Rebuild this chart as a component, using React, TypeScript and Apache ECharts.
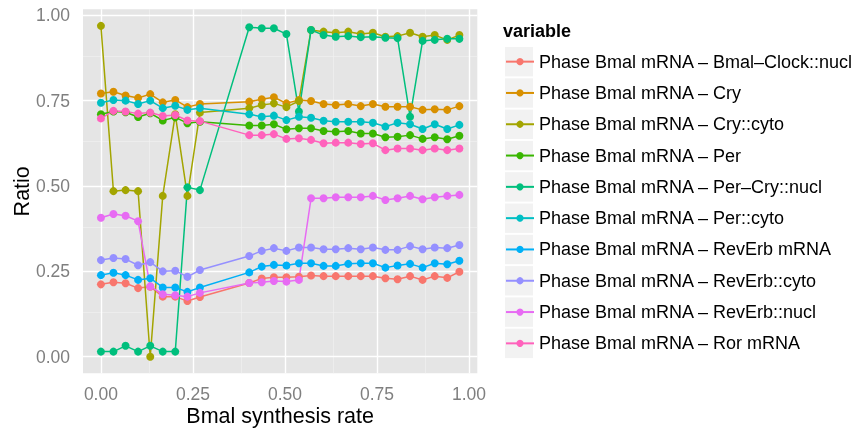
import React, { useEffect, useRef } from "react";
import * as echarts from "echarts";

const FONT = '"Liberation Sans", Arial, Helvetica, sans-serif';

const xValues = [
  0, 0.034, 0.067, 0.101, 0.134, 0.168, 0.202, 0.235, 0.269,
  0.403, 0.437, 0.47, 0.504, 0.538, 0.571, 0.605, 0.638, 0.672,
  0.706, 0.739, 0.773, 0.806, 0.84, 0.874, 0.907, 0.941, 0.974,
];

const seriesNames = [
  "Phase Bmal mRNA – Bmal–Clock::nucl",
  "Phase Bmal mRNA – Cry",
  "Phase Bmal mRNA – Cry::cyto",
  "Phase Bmal mRNA – Per",
  "Phase Bmal mRNA – Per–Cry::nucl",
  "Phase Bmal mRNA – Per::cyto",
  "Phase Bmal mRNA – RevErb mRNA",
  "Phase Bmal mRNA – RevErb::cyto",
  "Phase Bmal mRNA – RevErb::nucl",
  "Phase Bmal mRNA – Ror mRNA",
];

const seriesColors = [
  "#F8766D", "#D89000", "#A3A500", "#39B600", "#00BF7D",
  "#00BFC4", "#00B0F6", "#9590FF", "#E76BF3", "#FF62BC",
];

const bmalClockNucl = [
  0.212, 0.218, 0.215, 0.201, 0.205, 0.176, 0.176, 0.163, 0.175,
  0.216, 0.229, 0.233, 0.233, 0.234, 0.238, 0.236, 0.236, 0.236,
  0.236, 0.236, 0.23, 0.227, 0.236, 0.225, 0.236, 0.231, 0.249,
];
const cry = [
  0.771, 0.776, 0.765, 0.758, 0.769, 0.745, 0.752, 0.731, 0.74,
  0.747, 0.754, 0.76, 0.742, 0.752, 0.749, 0.74, 0.737, 0.74,
  0.734, 0.74, 0.732, 0.732, 0.732, 0.723, 0.725, 0.723, 0.734,
];
const cryCyto = [
  0.969, 0.485, 0.488, 0.485, 0.0, 0.471, 0.71, 0.471, 0.715,
  0.728, 0.737, 0.742, 0.731, 0.749, 0.957, 0.952, 0.949, 0.952,
  0.945, 0.949, 0.937, 0.939, 0.949, 0.937, 0.942, 0.928, 0.942,
];
const per = [
  0.71, 0.718, 0.716, 0.702, 0.713, 0.692, 0.701, 0.684, 0.688,
  0.677, 0.677, 0.681, 0.666, 0.669, 0.669, 0.661, 0.659, 0.661,
  0.654, 0.654, 0.643, 0.644, 0.649, 0.638, 0.643, 0.637, 0.647,
];
const perCryNucl = [
  0.015, 0.015, 0.032, 0.015, 0.032, 0.015, 0.015, 0.496, 0.488,
  0.965, 0.962, 0.962, 0.945, 0.718, 0.957, 0.942, 0.937, 0.939,
  0.936, 0.937, 0.934, 0.933, 0.703, 0.925, 0.928, 0.931, 0.931,
];
const perCyto = [
  0.744, 0.752, 0.75, 0.74, 0.75, 0.728, 0.735, 0.723, 0.728,
  0.71, 0.703, 0.706, 0.693, 0.703, 0.7, 0.691, 0.688, 0.688,
  0.688, 0.685, 0.674, 0.685, 0.681, 0.667, 0.681, 0.667, 0.679,
];
const revErbMrna = [
  0.239, 0.246, 0.239, 0.225, 0.23, 0.203, 0.203, 0.19, 0.203,
  0.247, 0.264, 0.269, 0.267, 0.274, 0.274, 0.266, 0.266, 0.272,
  0.274, 0.274, 0.261, 0.267, 0.272, 0.261, 0.274, 0.271, 0.281,
];
const revErbCyto = [
  0.283, 0.289, 0.286, 0.268, 0.277, 0.25, 0.252, 0.234, 0.254,
  0.295, 0.31, 0.318, 0.31, 0.32, 0.32, 0.315, 0.315, 0.318,
  0.315, 0.32, 0.313, 0.313, 0.324, 0.315, 0.32, 0.318, 0.327,
];
const revErbNucl = [
  0.407, 0.418, 0.413, 0.397, 0.206, 0.183, 0.18, 0.176, 0.187,
  0.216, 0.218, 0.222, 0.22, 0.225, 0.464, 0.464, 0.467, 0.467,
  0.467, 0.471, 0.459, 0.464, 0.471, 0.461, 0.467, 0.471, 0.474,
];
const rorMrna = [
  0.698, 0.72, 0.718, 0.712, 0.715, 0.705, 0.708, 0.692, 0.69,
  0.649, 0.649, 0.652, 0.638, 0.64, 0.635, 0.625, 0.627, 0.627,
  0.623, 0.625, 0.605, 0.61, 0.61, 0.605, 0.61, 0.605, 0.61,
];

const seriesValues = [
  bmalClockNucl, cry, cryCyto, per, perCryNucl,
  perCyto, revErbMrna, revErbCyto, revErbNucl, rorMrna,
];

const majorTicks = [0, 0.25, 0.5, 0.75, 1];
const minorTicks = [0.125, 0.375, 0.625, 0.875];

export default function App() {
  const ref = useRef<HTMLDivElement>(null);

  useEffect(() => {
    const chart = echarts.init(ref.current as HTMLDivElement, null, { renderer: "svg" });

    const axisCommon = (name: string, nameGap: number, margin: number) => ({
      type: "value" as const,
      axisLine: { show: false },
      axisTick: {
        show: true,
        length: 7,
        customValues: majorTicks,
        lineStyle: { color: "#7F7F7F", width: 1 },
      },
      axisLabel: {
        customValues: majorTicks,
        formatter: (v: number) => v.toFixed(2),
        color: "#7F7F7F",
        fontSize: 17.5,
        fontFamily: FONT,
        margin,
      },
      splitLine: { show: false },
      minorSplitLine: { show: false },
      name,
      nameLocation: "middle" as const,
      nameGap,
      nameMoveOverlap: false,
      nameTextStyle: { color: "#000000", fontSize: 21.5, fontFamily: FONT },
    });

    const legendTop = 46;
    const rowH = 31.3;

    const gridLineSeries = (ticks: number[], width: number, color: string, z: number) => ({
      type: "line",
      data: [],
      z,
      silent: true,
      markLine: {
        z,
        silent: true,
        symbol: ["none", "none"],
        label: { show: false },
        lineStyle: { color, width, type: "solid" },
        emphasis: { disabled: true },
        data: [
          ...ticks.map((v) => ({ xAxis: v })),
          ...ticks.map((v) => ({ yAxis: v })),
        ],
      },
    });

    const option: any = {
      animation: false,
      grid: {
        left: 83,
        top: 9.3,
        width: 394.3,
        height: 364,
        show: true,
        backgroundColor: "#E5E5E5",
        borderWidth: 0,
        outerBoundsMode: "none",
        containLabel: false,
      },
      xAxis: {
        ...axisCommon("Bmal synthesis rate", 32, 12),
        min: -0.0487,
        max: 1.0227,
      },
      yAxis: {
        ...axisCommon("Ratio", 50, 13),
        min: -0.0485,
        max: 1.0175,
        nameRotate: 90,
      },
      legend: {
        orient: "vertical",
        left: 505,
        top: legendTop,
        padding: 0,
        itemWidth: 28,
        itemHeight: 9,
        itemGap: 0,
        selectedMode: false,
        data: seriesNames,
        textStyle: { fontSize: 18, fontFamily: FONT, color: "#000000", lineHeight: rowH },
      },
      graphic: [
        {
          type: "text",
          x: 503,
          y: 30.5,
          silent: true,
          style: {
            text: "variable",
            fontSize: 18,
            fontWeight: "bold",
            fontFamily: FONT,
            fill: "#000000",
            verticalAlign: "middle",
          },
        },
        ...seriesNames.map((_, i) => ({
          type: "rect",
          silent: true,
          z: 0,
          shape: { x: 505, y: legendTop + 1 + rowH * i, width: 28, height: 29.4 },
          style: { fill: "#F2F2F2" },
        })),
      ],
      series: [
        gridLineSeries(minorTicks, 0.6, "#F2F2F2", 0.5),
        gridLineSeries(majorTicks, 1.4, "#FFFFFF", 1),
        ...seriesNames.map((name, i) => ({
          type: "line",
          name,
          z: 3,
          data: xValues.map((x, j) => [x, seriesValues[i][j]]),
          symbol: "circle",
          symbolSize: 8,
          showSymbol: true,
          color: seriesColors[i],
          lineStyle: { width: 1.5, color: seriesColors[i] },
          itemStyle: { color: seriesColors[i] },
          emphasis: { disabled: true },
        })),
      ],
    };

    chart.setOption(option);
    return () => chart.dispose();
  }, []);

  return (
    <div
      ref={ref}
      style={{ position: "fixed", left: 0, top: 0, width: 862, height: 431 }}
    />
  );
}
